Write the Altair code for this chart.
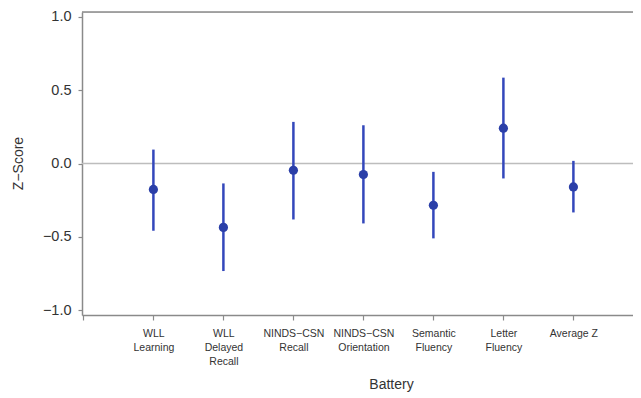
import json
import altair as alt
import pandas as pd

# ---- data ----
battery = ["WLL Learning", "WLL Delayed Recall", "NINDS-CSN Recall", "NINDS-CSN Orientation",
           "Semantic Fluency", "Letter Fluency", "Average Z"]
label_lines = [["WLL", "Learning"], ["WLL", "Delayed", "Recall"], ["NINDS\u2212CSN", "Recall"],
               ["NINDS\u2212CSN", "Orientation"], ["Semantic", "Fluency"], ["Letter", "Fluency"],
               ["Average Z"]]
z_mean = [-0.177, -0.436, -0.046, -0.075, -0.285, 0.241, -0.160]
z_low = [-0.459, -0.734, -0.382, -0.409, -0.511, -0.102, -0.334]
z_high = [0.095, -0.136, 0.284, 0.261, -0.057, 0.586, 0.018]
y_ticks = [-1.0, -0.5, 0.0, 0.5, 1.0]

df = pd.DataFrame({
    "idx": list(range(1, len(battery) + 1)),
    "battery": battery,
    "z": z_mean,
    "lo": z_low,
    "hi": z_high,
})

W = 551
H = 303
FONT = "Liberation Sans"
BLUE = "#2b3fa8"
AXIS_GRAY = "#8a8a8a"

xdom = [-0.02, W / 70.0 - 0.02]
ydom = [-1.034, 1.034]
yscale = alt.Scale(domain=ydom, nice=False, zero=False)

label_expr = "datum.value < 1 ? '' : " + json.dumps(label_lines) + "[datum.value - 1]"

x_enc = alt.X("idx:Q", scale=alt.Scale(domain=xdom, nice=False, zero=False),
              axis=alt.Axis(values=list(range(0, len(battery) + 1)), labelExpr=label_expr,
                            title="Battery", grid=False, domainColor=AXIS_GRAY, domainWidth=1.5,
                            tickColor=AXIS_GRAY, tickSize=5, tickWidth=1.2,
                            labelFont=FONT, labelFontSize=10.5, labelColor="#333333",
                            labelPadding=8, labelLineHeight=14, labelBaseline="top",
                            titleFont=FONT, titleFontSize=14, titleFontWeight="normal",
                            titleColor="#333333", titleX=309, titleY=69,
                            titleBaseline="middle", titleAlign="center"))
y_enc = alt.Y("z:Q", scale=yscale,
              axis=alt.Axis(values=y_ticks, format=".1f", title="Z\u2212Score", grid=False,
                            domainColor=AXIS_GRAY, domainWidth=1.5, tickColor=AXIS_GRAY,
                            tickSize=4, tickWidth=1.2, labelFont=FONT, labelFontSize=14.5,
                            labelColor="#333333", labelPadding=7,
                            titleFont=FONT, titleFontSize=14, titleFontWeight="normal",
                            titleColor="#333333", titleX=-64, titleY=151,
                            titleBaseline="middle", titleAlign="center", titleAngle=-90))

base = alt.Chart(df)

zero_line = alt.Chart(pd.DataFrame({"y0": [0.0]})).mark_rule(
    color="#bdbdbd", strokeWidth=1.3
).encode(x=alt.value(0), x2=alt.value(W + 8), y=alt.Y("y0:Q", scale=yscale))

top_border = alt.Chart(pd.DataFrame({"y0": [0.0]})).mark_rule(
    color=AXIS_GRAY, strokeWidth=1.5
).encode(x=alt.value(0), x2=alt.value(W + 8), y=alt.value(0))

whiskers = base.mark_rule(color="#3347bb", strokeWidth=2.5).encode(
    x=x_enc, y=alt.Y("lo:Q", scale=yscale), y2="hi:Q"
)

points = base.mark_point(filled=True, opacity=1, size=85, color=BLUE).encode(
    x=x_enc, y=y_enc
)

chart = alt.layer(zero_line, top_border, whiskers, points).properties(
    width=W, height=H,
    autosize=alt.AutoSizeParams(type="none"),
    padding={"left": 74, "top": 4, "right": 0, "bottom": 82},
).configure_view(stroke=None).configure(background="white")

chart.save("out.html", embed_options={"renderer": "svg", "actions": False})
